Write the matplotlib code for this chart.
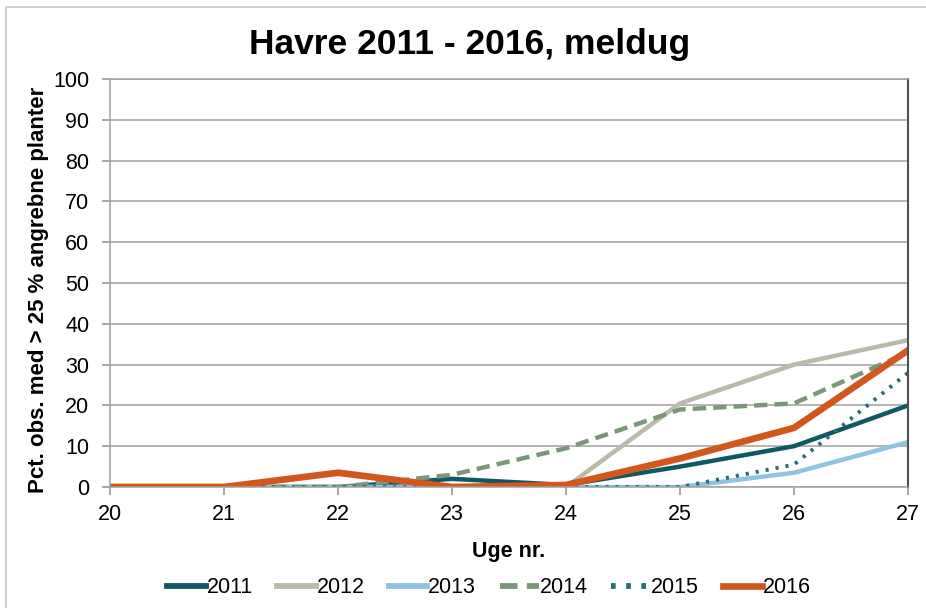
import matplotlib.pyplot as plt
from matplotlib.patches import Rectangle

plt.rcParams['font.family'] = ['Liberation Sans', 'DejaVu Sans']

# Data
weeks = [20, 21, 22, 23, 24, 25, 26, 27]
y2011 = [0, 0, 0, 2, 0.5, 5, 10, 20]
y2012 = [0, 0, 0, 0, 0, 20.5, 30, 36]
y2013 = [0, 0, 0, 0, 0, 0, 3.5, 11]
y2014 = [0, 0, 0, 3, 9.5, 19, 20.5, 33]
y2015 = [0, 0, 0, 0, 0, 0, 5.5, 28]
y2016 = [0, 0, 3.5, 0, 0.5, 7, 14.5, 33.5]

fig = plt.figure(figsize=(9.26, 6.08), dpi=100)
fig.patches.append(Rectangle((6 / 926, -0.1), 1.2, 1 - 7 / 608 + 0.1, transform=fig.transFigure,
                             fill=False, edgecolor='#c8c8c8', linewidth=1.2))
ax = fig.add_axes([0.1188, 0.199, 0.8618, 0.671])

ax.plot(weeks, y2011, color='#0e5963', lw=3.2, label='2011')
ax.plot(weeks, y2012, color='#b9baa9', lw=3.2, label='2012')
ax.plot(weeks, y2013, color='#8ec4e2', lw=3.2, label='2013')
ax.plot(weeks, y2014, color='#7a977a', lw=3.2, ls=(0, (3, 1.6)), label='2014')
ax.plot(weeks, y2015, color='#2b6d72', lw=2.8, ls=(0, (0.8, 1.8)), label='2015')
ax.plot(weeks, y2016, color='#d3561c', lw=4.8, label='2016')

ax.set_xlim(20, 27)
ax.set_ylim(0, 100)
ax.set_xticks(range(20, 28))
ax.set_yticks(range(0, 101, 10))
ax.grid(axis='y', color='#a0a0a0', lw=1.1)
ax.set_axisbelow(True)
ax.tick_params(axis='both', labelsize=15.5, color='#909090', length=6, width=1.1)
ax.tick_params(axis='y', pad=9)
ax.tick_params(axis='x', pad=6)
for s in ['left', 'bottom', 'top']:
    ax.spines[s].set_color('#a0a0a0')
    ax.spines[s].set_linewidth(1.1)
ax.spines['right'].set_color('#505050')
ax.spines['right'].set_linewidth(1.5)

ax.set_title('Havre 2011 - 2016, meldug', fontsize=25.5, fontweight='bold', pad=18, x=0.45)
ax.set_xlabel('Uge nr.', fontsize=15.5, fontweight='bold', labelpad=12)
ax.set_ylabel('Pct. obs. med > 25 % angrebne planter', fontsize=16, fontweight='bold')
ax.yaxis.set_label_coords(-0.077, 0.483)

leg = fig.legend(loc='center', bbox_to_anchor=(0.528, 0.033), ncol=6, frameon=False, fontsize=15.5,
                 handlelength=1.8, handletextpad=0.05, columnspacing=1.1)
for h in leg.get_lines():
    h.set_linewidth(max(h.get_linewidth(), 4.2))

fig.savefig('out.png', dpi=100)
